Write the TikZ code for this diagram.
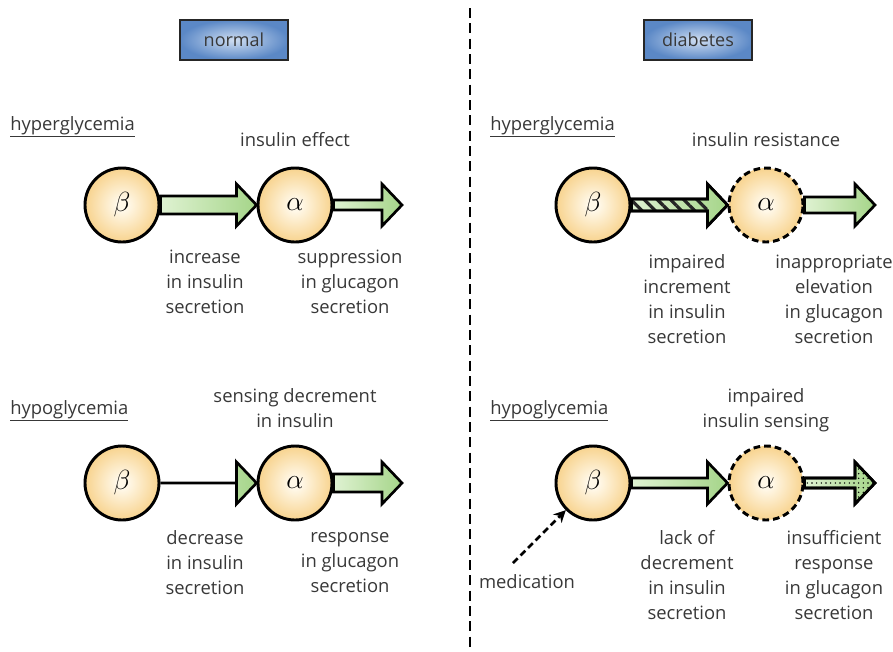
\documentclass[tikz,border=0pt]{standalone}
\usepackage{fontspec}
\setmainfont{Open Sans}
\usetikzlibrary{calc,patterns.meta,arrows.meta}

\definecolor{txtgray}{HTML}{383838}
\definecolor{cellout}{HTML}{F5C56C}
\definecolor{cellin}{HTML}{FFF8E8}
\definecolor{arrowlight}{HTML}{DFF2D2}
\definecolor{arrowdark}{HTML}{A5D589}
\definecolor{boxout}{HTML}{5B88C6}
\definecolor{boxin}{HTML}{CFDEF2}

\pgfdeclareradialshading{cellshade}{\pgfpoint{0bp}{0bp}}{%
    color(0bp)=(cellin); color(4bp)=(cellin); color(33bp)=(cellout); color(100bp)=(cellout)}

\tikzset{
    cell/.style={circle, draw=black, line width=2.2pt, minimum size=55.5pt, inner sep=0pt,
        shading=cellshade, font=\fontsize{20}{20}\selectfont},
    lazycell/.style={cell, dash pattern=on 5pt off 3pt},
    header/.style={rectangle, draw=black!85, line width=1pt, minimum width=81pt, minimum height=30pt,
        inner color=boxin, outer color=boxout, text=txtgray, font=\fontsize{13.5}{13.5}\selectfont},
    lbl/.style={text=txtgray, align=center, inner sep=0pt, font=\fontsize{13.8}{18.75}\selectfont},
    sect/.style={lbl, anchor=west},
    greenarrow/.style={draw=black, line width=2pt, line join=miter, left color=arrowlight, right color=arrowdark},
    outline/.style={draw=black, line width=2pt, line join=miter},
    hatch/.style={pattern={Lines[angle=-45,distance=7pt,line width=2.4pt]}, pattern color=black!85},
    dots/.style={pattern={Dots[distance=3.5pt,radius=0.6pt]}, pattern color=black},
    divider/.style={line width=1.8pt, dash pattern=on 7.5pt off 4pt},
    medarrow/.style={line width=2pt, dash pattern=on 5pt off 3pt, -{Stealth[length=9pt,width=9pt]}}
}

%block arrow: style, from, to, half shaft width (px)
\newcommand{\blockarrow}[4]{%
    \path[#1] let \p1=(#2), \p2=(#3), \n1={#4*0.75pt} in
        ({\x1},{\y1+\n1}) -- ({\x2-15pt},{\y1+\n1}) -- ({\x2-15pt},{\y1+15.75pt}) -- ({\x2},{\y1})
        -- ({\x2-15pt},{\y1-15.75pt}) -- ({\x2-15pt},{\y1-\n1}) -- ({\x1},{\y1-\n1}) -- cycle;}
%shaft only
\newcommand{\shaft}[4]{%
    \path[#1] let \p1=(#2), \p2=(#3), \n1={#4*0.75pt} in
        ({\x1},{\y1+\n1}) rectangle ({\x2-15pt},{\y1-\n1});}

\begin{document}
\begin{tikzpicture}[x=0.75pt,y=-0.75pt]
    \useasboundingbox (0,0) rectangle (893,651);

    %Trennlinie
    \draw[divider] (470,8) -- (470,651);

    %Kopf
    \node[header] (hnormal) at (234,40) {normal};
    \node[header] (hdiab) at (698,40) {diabetes};

    %normal
    \node[sect] (hyper1) at (10,127) {\underline{hyperglycemia}};
    \node[sect] (hypo1) at (10,411) {\underline{hypoglycemia}};

    \node[cell] (b1) at (122,205) {$\beta$};
    \node[cell] (a1) at (295,205) {$\alpha$};
    \coordinate (e1) at (402,205);
    \blockarrow{greenarrow}{b1.east}{a1.west}{9}
    \blockarrow{greenarrow}{a1.east}{e1}{5}
    \node[lbl] (t1) at (295,140) {insulin effect};
    \node[lbl] (t2) at (205,282) {increase\\in insulin\\secretion};
    \node[lbl] (t3) at (350,282) {suppression\\in glucagon\\secretion};

    \node[cell] (b3) at (122,483) {$\beta$};
    \node[cell] (a3) at (295,483) {$\alpha$};
    \coordinate (e3) at (402,483);
    \blockarrow{greenarrow}{b3.east}{a3.west}{0}
    \blockarrow{greenarrow}{a3.east}{e3}{9}
    \node[lbl] (t4) at (295,408) {sensing decrement\\in insulin};
    \node[lbl] (t5) at (205,563) {decrease\\in insulin\\secretion};
    \node[lbl] (t6) at (350,563) {response\\in glucagon\\secretion};

    %diabetes
    \node[sect] (hyper2) at (490,127) {\underline{hyperglycemia}};
    \node[sect] (hypo2) at (490,411) {\underline{hypoglycemia}};

    \node[cell] (b2) at (593,205) {$\beta$};
    \node[lazycell] (a2) at (766,205) {$\alpha$};
    \coordinate (e2) at (875,205);
    \blockarrow{greenarrow}{b2.east}{a2.west}{6}
    \shaft{hatch}{b2.east}{a2.west}{6}
    \blockarrow{outline}{b2.east}{a2.west}{6}
    \blockarrow{greenarrow}{a2.east}{e2}{8}
    \node[lbl] (t7) at (766,140) {insulin resistance};
    \node[lbl] (t8) at (687,299.5) {impaired\\increment\\in insulin\\secretion};
    \node[lbl] (t9) at (834,299.5) {inappropriate\\elevation\\in glucagon\\secretion};

    \node[cell] (b4) at (593,483) {$\beta$};
    \node[lazycell] (a4) at (766,483) {$\alpha$};
    \coordinate (e4) at (875,483);
    \blockarrow{greenarrow}{b4.east}{a4.west}{5}
    \blockarrow{greenarrow}{a4.east}{e4}{5}
    \blockarrow{dots,outline}{a4.east}{e4}{5}
    \node[lbl] (t10) at (766,410) {impaired\\insulin sensing};
    \node[lbl] (t11) at (687,575.5) {lack of\\decrement\\in insulin\\secretion};
    \node[lbl] (t12) at (834,575.5) {insufficient\\response\\in glucagon\\secretion};

    %Medikation
    \node[lbl] (med) at (527,582) {medication};
    \coordinate (m0) at (513,563);
    \draw[medarrow] (m0) -- (b4.south west);
\end{tikzpicture}
\end{document}
